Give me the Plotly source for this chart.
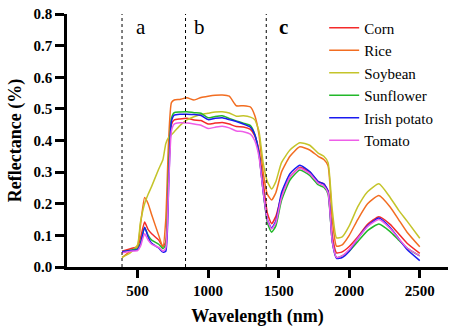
import plotly.graph_objects as go

wavelength = [390, 450, 500, 520, 550, 575, 600, 650, 680, 700, 720, 740, 760, 800, 850, 900, 950,
              1000, 1050, 1100, 1150, 1200, 1250, 1300, 1330, 1360, 1390, 1420, 1450, 1480, 1520,
              1580, 1650, 1720, 1780, 1820, 1850, 1880, 1910, 1950, 2000, 2060, 2130, 2210, 2290,
              2350, 2410, 2500]

corn = [0.050, 0.058, 0.065, 0.090, 0.142, 0.118, 0.105, 0.085, 0.065, 0.080, 0.300, 0.450, 0.465,
        0.468, 0.470, 0.465, 0.463, 0.452, 0.455, 0.457, 0.452, 0.444, 0.443, 0.435, 0.415, 0.370,
        0.270, 0.170, 0.137, 0.160, 0.225, 0.285, 0.315, 0.300, 0.270, 0.263, 0.240, 0.100, 0.045,
        0.048, 0.065, 0.095, 0.135, 0.159, 0.135, 0.105, 0.075, 0.043]
rice = [0.030, 0.050, 0.065, 0.130, 0.220, 0.200, 0.165, 0.100, 0.062, 0.150, 0.400, 0.520, 0.528,
        0.530, 0.535, 0.528, 0.536, 0.540, 0.543, 0.544, 0.540, 0.510, 0.510, 0.506, 0.480, 0.420,
        0.300, 0.230, 0.212, 0.235, 0.300, 0.350, 0.380, 0.370, 0.350, 0.340, 0.320, 0.150, 0.066,
        0.070, 0.100, 0.150, 0.200, 0.226, 0.190, 0.150, 0.110, 0.064]
soybean = [0.030, 0.045, 0.070, 0.140, 0.200, 0.230, 0.255, 0.310, 0.340, 0.390, 0.410, 0.418, 0.428,
           0.447, 0.465, 0.475, 0.482, 0.486, 0.490, 0.491, 0.487, 0.477, 0.478, 0.474, 0.466, 0.430,
           0.330, 0.270, 0.247, 0.270, 0.330, 0.370, 0.393, 0.385, 0.360, 0.350, 0.330, 0.180, 0.092,
           0.095, 0.130, 0.190, 0.238, 0.263, 0.220, 0.180, 0.145, 0.091]
sunflower = [0.048, 0.053, 0.058, 0.075, 0.125, 0.100, 0.085, 0.072, 0.058, 0.070, 0.300, 0.470, 0.488,
             0.490, 0.491, 0.488, 0.486, 0.472, 0.476, 0.478, 0.470, 0.462, 0.455, 0.447, 0.420, 0.360,
             0.240, 0.140, 0.110, 0.130, 0.210, 0.275, 0.307, 0.290, 0.260, 0.252, 0.230, 0.080, 0.030,
             0.035, 0.050, 0.080, 0.115, 0.136, 0.112, 0.085, 0.060, 0.035]
irish_potato = [0.048, 0.052, 0.055, 0.070, 0.126, 0.095, 0.075, 0.060, 0.047, 0.050, 0.250, 0.460, 0.480,
                0.483, 0.483, 0.482, 0.479, 0.466, 0.470, 0.472, 0.466, 0.460, 0.452, 0.442, 0.420, 0.360,
                0.240, 0.150, 0.123, 0.145, 0.235, 0.295, 0.322, 0.302, 0.270, 0.263, 0.240, 0.080, 0.027,
                0.030, 0.050, 0.090, 0.130, 0.155, 0.125, 0.090, 0.055, 0.020]
tomato = [0.045, 0.050, 0.052, 0.065, 0.105, 0.085, 0.072, 0.062, 0.050, 0.060, 0.250, 0.430, 0.452,
          0.456, 0.455, 0.452, 0.448, 0.438, 0.442, 0.445, 0.440, 0.430, 0.428, 0.420, 0.400, 0.350,
          0.240, 0.150, 0.120, 0.140, 0.220, 0.285, 0.312, 0.295, 0.265, 0.257, 0.235, 0.080, 0.030,
          0.035, 0.055, 0.090, 0.128, 0.150, 0.122, 0.090, 0.060, 0.035]

series_names = ["Corn", "Rice", "Soybean", "Sunflower", "Irish potato", "Tomato"]
series_values = [corn, rice, soybean, sunflower, irish_potato, tomato]
colors = ["#f42a2a", "#f26d21", "#c4c42a", "#22b82a", "#1a1af0", "#ee5ee8"]

region_bounds = [390, 840, 1412]
region_labels = ["a", "b", "<b>c</b>"]
region_label_x = [521, 939, 1535]

x_ticks = [500, 1000, 1500, 2000, 2500]
y_ticks = [0.0, 0.1, 0.2, 0.3, 0.4, 0.5, 0.6, 0.7, 0.8]

FONT_REG = "Times New Roman"
FONT_BOLD = "Liberation Serif"

fig = go.Figure()
for name, vals, col in zip(series_names, series_values, colors):
    fig.add_trace(go.Scatter(x=wavelength, y=vals, mode="lines", name=name,
                             line=dict(color=col, width=1.5, shape="spline", smoothing=0.5)))

for xb in region_bounds:
    fig.add_shape(type="line", x0=xb, x1=xb, y0=0, y1=0.8, xref="x", yref="y",
                  line=dict(color="black", width=1, dash="dot"))
for lab, lx in zip(region_labels, region_label_x):
    fam = FONT_BOLD if "<b>" in lab else FONT_REG
    fig.add_annotation(x=lx, y=0.76, text=lab, showarrow=False, xref="x", yref="y",
                       font=dict(family=fam, size=21, color="black"))

fig.update_layout(
    width=455, height=336,
    margin=dict(l=67, r=7, t=14, b=69),
    paper_bgcolor="white", plot_bgcolor="white",
    font=dict(family=FONT_REG, color="black"),
    legend=dict(x=0.675, y=1.01, xanchor="left", yanchor="top",
                font=dict(size=15, color="black"),
                bgcolor="rgba(0,0,0,0)", tracegroupgap=0),
)
fig.update_xaxes(range=[0, 2700], tickvals=x_ticks, ticktext=[f"<b>{t}</b>" for t in x_ticks],
                 showgrid=False, zeroline=False, showline=True, linecolor="black", linewidth=2.5,
                 ticks="outside", ticklen=8, tickwidth=2.5, tickcolor="black",
                 tickfont=dict(family=FONT_BOLD, size=15, color="black"),
                 title=dict(text="<b>Wavelength (nm)</b>", font=dict(family=FONT_BOLD, size=18), standoff=12))
fig.update_yaxes(range=[0, 0.8], tickvals=y_ticks, ticktext=[f"<b>{t:.1f}</b>" for t in y_ticks],
                 showgrid=False, zeroline=False, showline=True, linecolor="black", linewidth=2.5,
                 ticks="outside", ticklen=9, tickwidth=2.5, tickcolor="black",
                 tickfont=dict(family=FONT_BOLD, size=15, color="black"),
                 title=dict(text="<b>Reflectance (%)</b>", font=dict(family=FONT_BOLD, size=18), standoff=8))

fig.write_html("out.html")
